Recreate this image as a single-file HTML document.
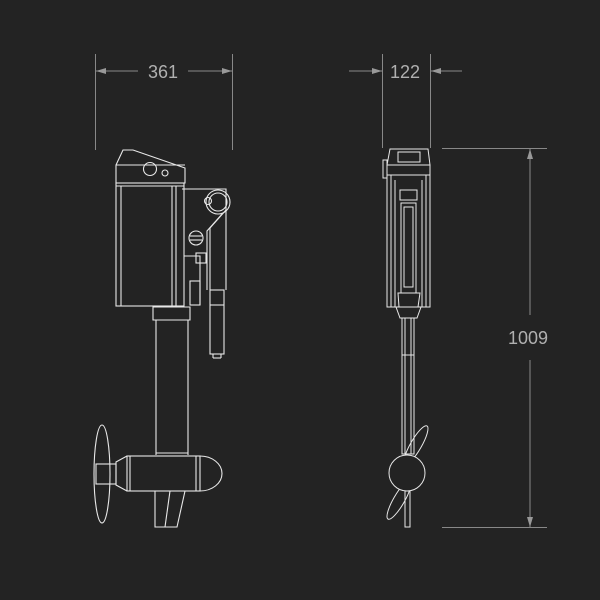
<!DOCTYPE html>
<html><head><style>
html,body{margin:0;padding:0;background:#232323;}
svg{display:block}
text{font-family:"Liberation Sans",sans-serif;fill:#b0b0b0;font-size:18px}
</style></head><body>
<svg width="600" height="600" viewBox="0 0 600 600">
<rect width="600" height="600" fill="#232323"/>
<defs>
<marker id="a" markerWidth="10" markerHeight="8" refX="10" refY="4" orient="auto" markerUnits="userSpaceOnUse"><path d="M0,1 L10,4 L0,7 Z" fill="#999"/></marker>
</defs>
<g stroke="#888" stroke-width="1" fill="none">
<line x1="95.5" y1="54" x2="95.5" y2="150"/>
<line x1="232.5" y1="54" x2="232.5" y2="150"/>
<line x1="138" y1="71" x2="96" y2="71" marker-end="url(#a)"/>
<line x1="188" y1="71" x2="232" y2="71" marker-end="url(#a)"/>
<line x1="382.5" y1="54" x2="382.5" y2="148"/>
<line x1="430.5" y1="54" x2="430.5" y2="148"/>
<line x1="349" y1="71" x2="382" y2="71" marker-end="url(#a)"/>
<line x1="462" y1="71" x2="431" y2="71" marker-end="url(#a)"/>
<line x1="442" y1="148.5" x2="547" y2="148.5"/>
<line x1="442" y1="527.5" x2="547" y2="527.5"/>
<line x1="530" y1="315" x2="530" y2="149" marker-end="url(#a)"/>
<line x1="530" y1="360" x2="530" y2="527" marker-end="url(#a)"/>
</g>
<text x="163" y="78" text-anchor="middle">361</text>
<text x="405" y="78" text-anchor="middle">122</text>
<text x="528" y="344" text-anchor="middle">1009</text>

<g stroke="#e8e8e8" stroke-width="1.1" fill="none">
<path d="M116,165 L123,150 L133,150 L185,168 L185,183 L116,183 Z"/>
<line x1="116" y1="165" x2="185" y2="165"/>
<circle cx="150" cy="169" r="6.5"/>
<circle cx="165" cy="173" r="3"/>
<rect x="116" y="183" width="68" height="123"/>
<line x1="116" y1="186" x2="184" y2="186"/>
<line x1="121" y1="186" x2="121" y2="306"/>
<line x1="172" y1="186" x2="172" y2="306"/>
<line x1="176" y1="186" x2="176" y2="306"/>
<path d="M182,189 L226,189 L226,290"/>
<path d="M184,256 L200,256 L200,305"/>
<circle cx="218" cy="202" r="12"/>
<circle cx="218" cy="202" r="9"/>
<circle cx="208" cy="201" r="3.5"/>
<path d="M226,210 L210,228 L210,290"/>
<path d="M223,213 L207,231 L207,290"/>
<circle cx="196" cy="238" r="7"/>
<line x1="190" y1="236" x2="202" y2="236"/><line x1="190" y1="240" x2="202" y2="240"/>
<rect x="190" y="281" width="10" height="24"/>
<rect x="196" y="253" width="10" height="10"/>
<rect x="210" y="290" width="14" height="64"/>
<line x1="210" y1="305" x2="224" y2="305"/>
<line x1="213" y1="354" x2="213" y2="358"/><line x1="221" y1="354" x2="221" y2="358"/>
<line x1="213" y1="358" x2="221" y2="358"/>
<path d="M153,307 L190,307 L190,320 L153,320 Z"/>
<line x1="156" y1="320" x2="156" y2="455"/>
<line x1="188" y1="320" x2="188" y2="455"/>
<line x1="156" y1="453" x2="188" y2="453"/>
<rect x="127" y="456" width="73" height="35"/>
<line x1="130" y1="456" x2="130" y2="491"/>
<line x1="196" y1="456" x2="196" y2="491"/>
<path d="M200,456 A22,17.5 0 0 1 200,491"/>
<path d="M127,456 L116,462 L116,485 L127,491"/>
<rect x="96" y="464" width="20" height="20"/>
<ellipse cx="102" cy="474" rx="8" ry="49"/>
<path d="M155,491 L155,527 L177,527 L185,491"/>
<path d="M170,491 L165,527"/>
</g>

<g stroke="#e8e8e8" stroke-width="1" fill="none">
<path d="M390,149 L428,149 L430,165 L387,165 Z"/>
<rect x="398" y="152" width="22" height="10"/>
<rect x="383" y="160" width="4" height="18"/>
<rect x="387" y="165" width="43" height="10" fill="#232323"/>
<line x1="387" y1="175" x2="430" y2="175"/>
<rect x="387" y="175" width="43" height="132"/>
<line x1="391" y1="175" x2="391" y2="307"/>
<line x1="426" y1="175" x2="426" y2="307"/>
<line x1="395" y1="180" x2="395" y2="307"/>
<line x1="422" y1="180" x2="422" y2="307"/>
<rect x="400" y="190" width="17" height="10"/>
<rect x="401" y="203" width="15" height="90"/>
<rect x="404" y="207" width="9" height="80"/>
<path d="M398,293 L420,293 L418,307 L399,307 Z"/>
<path d="M396,307 L400,318 L417,318 L421,307"/>
<rect x="402" y="318" width="12" height="136"/>
<line x1="405" y1="318" x2="405" y2="454"/>
<line x1="411" y1="318" x2="411" y2="454"/>
<line x1="402" y1="355" x2="414" y2="355"/>
<ellipse cx="416" cy="445" rx="5.5" ry="22" transform="rotate(30 416 445)"/>
<ellipse cx="399" cy="500" rx="5.5" ry="22" transform="rotate(30 399 500)"/>
<circle cx="407" cy="473" r="18" fill="#232323"/>
<rect x="405" y="491" width="5" height="36"/>
</g>
</svg>
</body></html>
